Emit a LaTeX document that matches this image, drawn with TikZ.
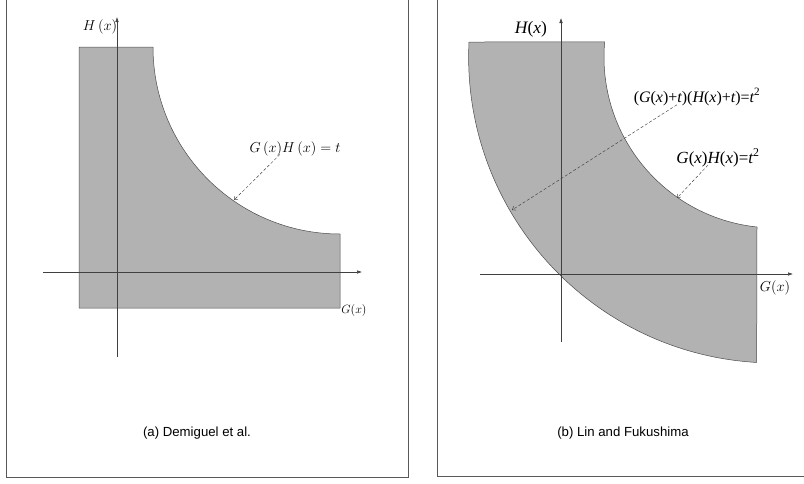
\documentclass[tikz,border=0pt]{standalone}
\usepackage{fontspec}
\setmainfont{Liberation Sans}
\newfontfamily\tmsfont{Liberation Serif}
\usepackage{tikz}
\usetikzlibrary{arrows.meta}

\newcommand{\tv}[1]{{\itshape #1}}

\begin{document}
\begin{tikzpicture}
			[x=1pt, y=-1pt,
			region/.style={fill=black!30, draw=black!70, line width=0.5pt},
			axis/.style={draw=black!75, line width=0.5pt, -{Latex[length=5pt,width=3.5pt]}},
			frame/.style={draw=black!65, line width=0.9pt},
			pointer/.style={draw=black!75, line width=0.45pt, dash pattern=on 3pt off 2pt, -{Straight Barb[length=3pt,width=4.5pt]}},
			caption/.style={inner sep=0pt, font=\fontsize{13.2}{15}\selectfont},
			lbl/.style={inner sep=0pt}]
			
			\useasboundingbox (0,0) rectangle (804,483);
			\clip (0,0) rectangle (804,483);
			
			\draw[frame] (6,-10) rectangle (408,477);
			\draw[frame] (437,-10) rectangle (830,476);
			
			\filldraw[region] (79,47) -- (153,47) arc[start angle=180, end angle=90, radius=187] -- (340,308) -- (79,308) -- cycle;
			
			\coordinate (Oa) at (117,272);
			\coordinate (Xa) at (362,272);
			\coordinate (Xa0) at (43,272);
			\coordinate (Ya) at (117,17);
			\coordinate (Ya0) at (117,357);
			\draw[axis] (Xa0) -- (Xa);
			\draw[axis] (Ya0) -- (Ya);
			
			\node[lbl, font=\fontsize{14}{16}\selectfont] (Ha) at (100,27) {$H\,(x)$};
			\node[lbl, font=\fontsize{13}{15}\selectfont] (Ga) at (354,310) {$G(x)$};
			\node[lbl, font=\fontsize{14}{16}\selectfont] (curvea) at (295,149) {$G\,(x)H\,(x) = t$};
			\coordinate (toucha) at (234,200);
			\draw[pointer] ([xshift=-15pt, yshift=2pt]curvea.south) -- (toucha);
			
			\node[caption] (capa) at (197,433) {(a) Demiguel et al.};
			
			\filldraw[region] (469,42) arc[start angle=182.81, end angle=93.37, radius=306] -- (757,227) arc[start angle=96.04, end angle=185.03, radius=171] -- cycle;
			
			\coordinate (Ob) at (561,274);
			\coordinate (Xb) at (793,274);
			\coordinate (Xb0) at (480,274);
			\coordinate (Yb) at (561,18);
			\coordinate (Yb0) at (561,342);
			\draw[axis] (Xb0) -- (Xb);
			\draw[axis] (Yb0) -- (Yb);
			
			\node[lbl, font=\fontsize{17.5}{19}\selectfont\tmsfont] (Hb) at (531,29) {\tv{H}(\tv{x})};
			\node[lbl, font=\fontsize{14.5}{16}\selectfont] (Gb) at (775,288) {$G(x)$};
			\node[lbl, font=\fontsize{16}{18}\selectfont\tmsfont] (outerb) at (697,97) {(\tv{G}(\tv{x})+\tv{t})(\tv{H}(\tv{x})+\tv{t})=\tv{t}\textsuperscript{2}};
			\node[lbl, font=\fontsize{17}{19}\selectfont\tmsfont] (innerb) at (718,158) {\tv{G}(\tv{x})\tv{H}(\tv{x})=\tv{t}\textsuperscript{2}};
			\coordinate (touchbo) at (512,210);
			\coordinate (touchbi) at (677,198);
			\draw[pointer] ([xshift=-20pt, yshift=1pt]outerb.south) -- (touchbo);
			\draw[pointer] ([xshift=-10pt, yshift=2pt]innerb.south) -- (touchbi);
			
			\node[caption] (capb) at (623,433) {(b) Lin and Fukushima};
		\end{tikzpicture}
\end{document}
